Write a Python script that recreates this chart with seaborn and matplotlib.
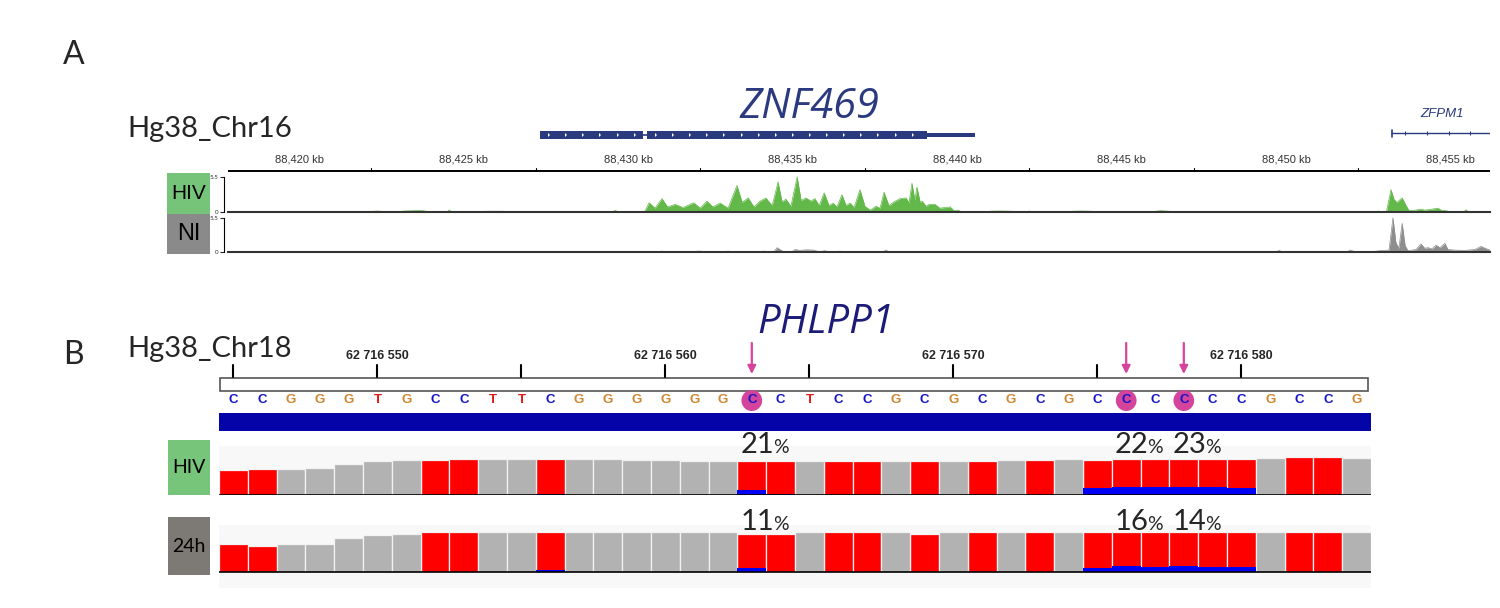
import numpy as np
import matplotlib.pyplot as plt
from matplotlib.patches import Rectangle, Ellipse
import pandas as pd
import seaborn as sns

W, H = 1500, 608

# ---------------- panel A data ----------------
ruler_a_kb = [88420, 88425, 88430, 88435, 88440, 88445, 88450, 88455]
znf469_exons = [(88427.33, 88430.46), (88430.58, 88439.1)]
znf469_utr = (88439.1, 88440.55)
zfpm1_start = 88453.22

hiv_kb = [88422.1, 88422.2, 88422.4, 88422.6, 88422.8, 88423.0, 88423.2, 88423.5, 88423.7, 88423.9, 88424.0,
          88424.5, 88424.56, 88424.65,
          88425.4, 88425.5, 88425.8, 88426.2, 88426.3,
          88427.2, 88427.25, 88427.6, 88427.7,
          88428.85, 88428.9, 88429.0,
          88429.55, 88429.6, 88429.7, 88429.9, 88430.0,
          88430.5, 88430.64, 88430.82, 88431.03, 88431.2, 88431.43, 88431.67, 88432.0,
          88432.19, 88432.4, 88432.58, 88432.8, 88433.04, 88433.31, 88433.47, 88433.65,
          88433.83, 88434.01, 88434.19, 88434.38, 88434.56, 88434.68, 88434.8, 88434.95,
          88435.14, 88435.26, 88435.41, 88435.56, 88435.68, 88435.81, 88435.96, 88436.11,
          88436.23, 88436.35, 88436.5, 88436.63, 88436.75, 88436.87, 88437.05, 88437.2,
          88437.36, 88437.54, 88437.66, 88437.78, 88437.93, 88438.09, 88438.27, 88438.45,
          88438.54, 88438.63, 88438.72, 88438.78, 88438.88, 88438.94, 88439.06, 88439.15,
          88439.33, 88439.48, 88439.64, 88439.79, 88439.91, 88440.03, 88440.15,
          88440.9, 88441.0, 88441.3, 88441.7, 88441.8,
          88442.1, 88442.2, 88442.3,
          88443.3, 88443.4, 88443.75, 88444.1, 88444.2,
          88444.7, 88444.75, 88445.2, 88445.3,
          88445.9, 88446.0, 88446.2, 88446.5, 88446.6,
          88447.2, 88447.25, 88447.6, 88447.7,
          88448.35, 88448.4, 88448.5,
          88452.3, 88452.4, 88452.5, 88452.75, 88452.8, 88452.9,
          88453.05, 88453.19, 88453.28, 88453.37, 88453.53, 88453.65, 88453.74, 88453.95,
          88454.07, 88454.22, 88454.38, 88454.5, 88454.62, 88454.71, 88454.86, 88455.0,
          88455.4, 88455.47, 88455.55, 88455.7, 88455.84, 88456.2]
hiv_cov = [0, 0.1, 0.15, 0.05, 0.1, 0.05, 0.15, 0.2, 0.25, 0.1, 0,
           0, 0.3, 0,
           0, 0.1, 0.12, 0.12, 0,
           0, 0.1, 0.1, 0,
           0, 0.1, 0,
           0, 0.25, 0.05, 0.1, 0,
           0, 1.45, 0.6, 2.1, 0.8, 1.2, 0.7, 1.45,
           0.6, 1.7, 0.8, 1.4, 0.6, 4.15, 1.5, 2.2,
           0.8, 1.7, 2.2, 1.0, 4.7, 1.6, 2.0, 0.9,
           5.5, 1.8, 2.2, 1.7, 2.1, 1.0, 3.0, 1.0,
           1.4, 0.8, 2.7, 1.0, 1.4, 0.7, 3.5, 0.9,
           0.3, 0.9, 0.6, 3.1, 1.0, 1.6, 2.1, 2.2,
           1.4, 4.5, 1.8, 3.9, 1.5, 1.7, 0.9, 1.2,
           1.2, 0.6, 0.7, 0.8, 0.2, 0.3, 0,
           0, 0.12, 0.15, 0.12, 0,
           0, 0.15, 0,
           0, 0.1, 0.15, 0.12, 0,
           0, 0.1, 0.1, 0,
           0, 0.1, 0.2, 0.1, 0,
           0, 0.1, 0.1, 0,
           0, 0.1, 0,
           0, 0.1, 0, 0, 0.15, 0,
           0, 3.5, 2.0, 1.5, 2.2, 1.0, 0.2, 0.3,
           0.45, 0.3, 0.4, 0.5, 0.6, 0.3, 0.2, 0.05,
           0, 0.35, 0, 0, 0.1, 0.1]

ni_kb = [88430.9, 88431.03, 88431.15,
         88431.9, 88432.0, 88432.2, 88432.3,
         88432.55, 88432.64, 88432.75,
         88432.95, 88433.04, 88433.15,
         88433.5, 88433.56, 88433.65,
         88434.05, 88434.13, 88434.25,
         88434.43, 88434.53, 88434.65, 88434.75,
         88434.98, 88435.08, 88435.23, 88435.41, 88435.65, 88435.8, 88435.99, 88436.1,
         88436.35, 88436.44, 88436.55,
         88437.75, 88437.84, 88437.95,
         88438.35, 88438.42, 88438.5,
         88439.15, 88439.24, 88439.35,
         88441.0, 88441.09, 88441.2,
         88449.7, 88449.79, 88449.9,
         88450.3, 88450.36, 88450.45,
         88451.85, 88451.95, 88452.1, 88452.6, 88452.92, 88453.13, 88453.25, 88453.34,
         88453.43, 88453.53, 88453.62, 88453.71, 88453.95, 88454.1, 88454.22, 88454.31,
         88454.44, 88454.56, 88454.68, 88454.83, 88454.92, 88455.14, 88455.44, 88455.74,
         88455.93, 88456.05, 88456.2]
ni_cov = [0, 0.15, 0,
          0, 0.1, 0.15, 0,
          0, 0.1, 0,
          0, 0.15, 0,
          0, 0.1, 0,
          0, 0.15, 0,
          0, 0.7, 0.3, 0,
          0, 0.4, 0.25, 0.35, 0.3, 0.05, 0.2, 0,
          0, 0.15, 0,
          0, 0.3, 0,
          0, 0.1, 0,
          0, 0.1, 0,
          0, 0.1, 0,
          0, 0.25, 0,
          0, 0.1, 0,
          0, 0.3, 0.05, 0.05, 0.25, 0.3, 5.5, 1.5,
          0.6, 4.6, 1.0, 0.2, 0.4, 1.3, 0.6, 0.7,
          0.5, 1.1, 0.7, 1.4, 0.4, 0.3, 0.25, 0.4,
          0.9, 0.6, 0.3]

# ---------------- panel B data ----------------
first_base_pos = 62716545
bases = list('CCGGGTGCCTTCGGGGGG' 'CCT' 'CCGCGCGCGC' 'CCCCC' 'GCCG')
marked = [19, 32, 34]
ruler_b_pos = [62716550, 62716560, 62716570, 62716580]

hiv_depth = [75, 78, 78, 82, 93, 103, 107, 107, 108, 110,
             110, 110, 110, 110, 107, 107, 103, 103, 103, 103,
             103, 103, 103, 103, 103, 103, 103, 105, 107, 110,
             107, 110, 110, 110, 110, 110, 113, 115, 115, 113]
hiv_unmeth = [0, 0, 0, 0, 0, 0, 0, 0, 0, 0,
              0, 3, 0, 0, 0, 0, 0, 0, 15, 4,
              0, 0, 0, 0, 0, 0, 0, 0, 0, 0,
              20, 24, 24, 24, 24, 20, 0, 0, 0, 0]
h24_depth = [84, 80, 84, 84, 102, 112, 116, 120, 120, 120,
             120, 122, 122, 122, 120, 120, 120, 120, 116, 116,
             120, 120, 120, 120, 116, 120, 120, 120, 120, 122,
             120, 122, 122, 122, 122, 122, 122, 122, 122, 122]
h24_unmeth = [0, 0, 0, 0, 0, 0, 0, 0, 0, 0,
              0, 7, 0, 0, 0, 0, 0, 0, 12, 0,
              0, 0, 0, 0, 0, 0, 0, 0, 0, 0,
              11, 19, 15, 19, 16, 16, 0, 0, 0, 0]
h24_other = [0, 3] + [0] * 38
hiv_pct = ['21', '22', '23']
h24_pct = ['11', '16', '14']

# ---------------- style ----------------
sns.set_theme(style='white')
plt.rcParams['font.family'] = ['Lato', 'DejaVu Sans']

NAVY = '#2b3a7e'
RED = '#ff0000'
GREY = '#b2b2b2'
BLUE = '#0000f5'
MAGENTA = '#d4449a'
base_colors = {'C': '#1414c8', 'G': '#cc8530', 'T': '#e01818', 'A': '#18a018'}


def box(x0, y0, x1, y1):
    return [x0 / W, 1 - y1 / H, (x1 - x0) / W, (y1 - y0) / H]


def bare(ax):
    ax.set_xticks([])
    ax.set_yticks([])
    for s in ax.spines.values():
        s.set_visible(False)


def label_box(fig, x0, y0, x1, y1, color, text, size, family):
    ax = fig.add_axes(box(x0, y0, x1, y1))
    bare(ax)
    ax.set_facecolor(color)
    ax.text(0.5, 0.5, text, ha='center', va='center', fontsize=size,
            family=family, color='black', transform=ax.transAxes)


fig = plt.figure(figsize=(W / 100, H / 100), dpi=100)
fig.patch.set_facecolor('white')

fig.text(63 / W, 1 - 64 / H, 'A', fontsize=23, va='baseline')
fig.text(63 / W, 1 - 364 / H, 'B', fontsize=23, va='baseline')
fig.text(127 / W, 1 - 137 / H, 'Hg38_Chr16', fontsize=21, va='baseline')
fig.text(127 / W, 1 - 357 / H, 'Hg38_Chr18', fontsize=21, va='baseline')

# ---------------- panel A: genes + ruler ----------------
kb_lim = (88417.84, 88456.2)
ax_g = fig.add_axes(box(228, 80, 1490, 176))
bare(ax_g)
ax_g.patch.set_alpha(0)
ax_g.set_xlim(kb_lim)
ax_g.set_ylim(176, 80)

for s, e in znf469_exons:
    ax_g.add_patch(Rectangle((s, 131), e - s, 8, color=NAVY, lw=0))
    chev = np.arange(s + 0.3, e - 0.1, 0.52)
    ax_g.plot(chev, [135] * len(chev), ls='none', marker=5, ms=2.2, color='white', mew=0)
ax_g.plot([znf469_exons[0][1], znf469_exons[1][0]], [135, 135], color=NAVY, lw=1.2)
ax_g.add_patch(Rectangle((znf469_utr[0], 133.2), znf469_utr[1] - znf469_utr[0], 3.8, color=NAVY, lw=0))
ax_g.text(88435.5, 107, 'ZNF469', ha='center', va='center', fontsize=30,
          style='italic', color=NAVY, family=['Open Sans', 'DejaVu Sans'])

ax_g.plot([zfpm1_start, kb_lim[1]], [133, 133], color=NAVY, lw=1)
ax_g.plot([zfpm1_start, zfpm1_start], [129.5, 136.5], color=NAVY, lw=1.2)
zf_ticks = np.arange(zfpm1_start + 0.4, kb_lim[1], 0.66)
ax_g.plot(zf_ticks, [133] * len(zf_ticks), ls='none', marker='|', ms=3, color=NAVY, mew=0.8)
ax_g.text(88454.75, 114, 'ZFPM1', ha='center', va='center', fontsize=9.5,
          style='italic', color=NAVY, family=['Liberation Sans', 'DejaVu Sans'])

ax_g.plot(kb_lim, [170.5, 170.5], color='black', lw=1.4)
for kb in ruler_a_kb:
    ax_g.text(kb, 160, f'{kb:,} kb', ha='center', va='center', fontsize=8,
              color='#333333', family=['Liberation Sans', 'DejaVu Sans'])
    if kb + 2.2 < kb_lim[1]:
        ax_g.plot([kb + 2.2, kb + 2.2], [168, 170.5], color='black', lw=0.8)

# ---------------- panel A: coverage tracks ----------------
for (y0, y1), kbs, cov, col, name, bcol, fs in [
        ((173, 212), hiv_kb, hiv_cov, '#62b848', 'HIV', '#76c47a', 15),
        ((214, 252), ni_kb, ni_cov, '#8e8e8e', 'NI', '#8a8a8a', 17)]:
    ax = fig.add_axes(box(228, y0, 1490, y1))
    ax.patch.set_alpha(0)
    ax.fill_between(kbs, cov, color=col, lw=0)
    sns.lineplot(x=kbs, y=cov, sort=False, color=col, lw=0.5, ax=ax)
    ax.set_xlim(kb_lim)
    ax.set_ylim(0, 6.1)
    ax.set_xticks([])
    ax.set_yticks([0, 5.5])
    ax.set_yticklabels(['0', '5.5'])
    ax.tick_params(axis='y', length=3, width=0.8, pad=1, direction='out', left=True,
                   labelsize=4.5, labelcolor='#333333')
    tl = ax.get_yticklabels()
    tl[0].set_va('bottom')
    tl[1].set_va('top')
    ax.spines['top'].set_visible(False)
    ax.spines['right'].set_visible(False)
    ax.spines['bottom'].set_color('#333333')
    ax.spines['bottom'].set_linewidth(1.5)
    ax.spines['left'].set_bounds(0, 5.5)
    ax.spines['left'].set_position(('outward', 3))
    ax.spines['left'].set_color('black')
    ax.spines['left'].set_linewidth(0.8)
    ax.set_ylabel('')
    label_box(fig, 167, y0, 210, y1 + 2, bcol, name, fs, ['Liberation Sans', 'DejaVu Sans'])

# ---------------- panel B: header ----------------
fig.text(826 / W, 1 - 323 / H, 'PHLPP1', ha='center', va='center', fontsize=29,
         style='italic', color='#1c1c78', family=['Open Sans', 'DejaVu Sans'])

ax_h = fig.add_axes(box(219, 336, 1371, 436))
bare(ax_h)
ax_h.patch.set_alpha(0)
ax_h.set_xlim(0.5, len(bases) + 0.5)
ax_h.set_ylim(436, 336)
for p in range(first_base_pos, first_base_pos + len(bases), 5):
    b = p - first_base_pos + 1
    ax_h.plot([b, b], [365, 377], color='black', lw=1.5)
for p in ruler_b_pos:
    b = p - first_base_pos + 1
    ax_h.text(b, 356, f'{p:,}'.replace(',', ' '), ha='center', va='center', fontsize=9,
              fontweight='bold', family=['Liberation Sans', 'DejaVu Sans'])
ax_h.add_patch(Rectangle((0.55, 378), len(bases) - 0.15, 13, facecolor='white',
                         edgecolor='#555555', lw=1.2))
for i, b in enumerate(bases, start=1):
    if i in marked:
        ax_h.add_patch(Ellipse((i, 400.5), 0.72, 21, color=MAGENTA, lw=0))
        ax_h.annotate('', xy=(i, 374), xytext=(i, 343),
                      arrowprops=dict(arrowstyle='-|>', color=MAGENTA, lw=1.6,
                                      mutation_scale=12, shrinkA=0, shrinkB=0))
    ax_h.text(i, 400.5, b, ha='center', va='center', fontsize=9.5, fontweight='bold',
              color=base_colors[b], family=['Liberation Sans', 'DejaVu Sans'])
ax_h.add_patch(Rectangle((0.5, 413), len(bases), 18, color='#0404a8', lw=0))

# ---------------- panel B: methylation bars ----------------
pos = np.arange(1, len(bases) + 1)
kind = ['C' if b == 'C' else 'other' for b in bases]
for (y0, y1), ylim, depth, unmeth, pct, name, bcol, by in [
        ((446, 495), (0, 148), hiv_depth, hiv_unmeth, hiv_pct, 'HIV', '#77c57a', (440, 495)),
        ((525, 588), (-48, 142), h24_depth, h24_unmeth, h24_pct, '24h', '#7d7975', (517, 575))]:
    ax = fig.add_axes(box(219, y0, 1371, y1))
    bare(ax)
    ax.set_facecolor('#f8f8f8')
    df = pd.DataFrame({'pos': pos, 'depth': depth, 'kind': kind, 'unmeth': unmeth})
    sns.barplot(data=df, x='pos', y='depth', hue='kind', native_scale=True, dodge=False,
                palette={'C': RED, 'other': GREY}, width=1, errorbar=None, saturation=1,
                edgecolor='#f2f2f2', linewidth=0.9, legend=False, ax=ax)
    sns.barplot(data=df, x='pos', y='unmeth', native_scale=True, color=BLUE, width=1,
                errorbar=None, edgecolor='none', linewidth=0, saturation=1, ax=ax)
    if name == '24h':
        sns.barplot(x=pos, y=h24_other, native_scale=True, color='#c86a28', width=1,
                    errorbar=None, edgecolor='none', linewidth=0, saturation=1, ax=ax)
    ax.axhline(0, color='black', lw=1.2, xmin=0, xmax=1)
    for b, t in zip(marked, pct):
        ax.text(b + 0.78, 127, t, ha='right', va='baseline', fontsize=21)
        ax.text(b + 0.74, 127, '%', ha='left', va='baseline', fontsize=14)
    ax.set_xlim(0.5, len(bases) + 0.5)
    ax.set_ylim(ylim)
    ax.set_xlabel('')
    ax.set_ylabel('')
    ax.set_xticks([])
    ax.set_yticks([])
    label_box(fig, 168, by[0], 210, by[1], bcol, name, 14, ['Lato', 'DejaVu Sans'])

fig.savefig('out.png', dpi=100, facecolor='white')
